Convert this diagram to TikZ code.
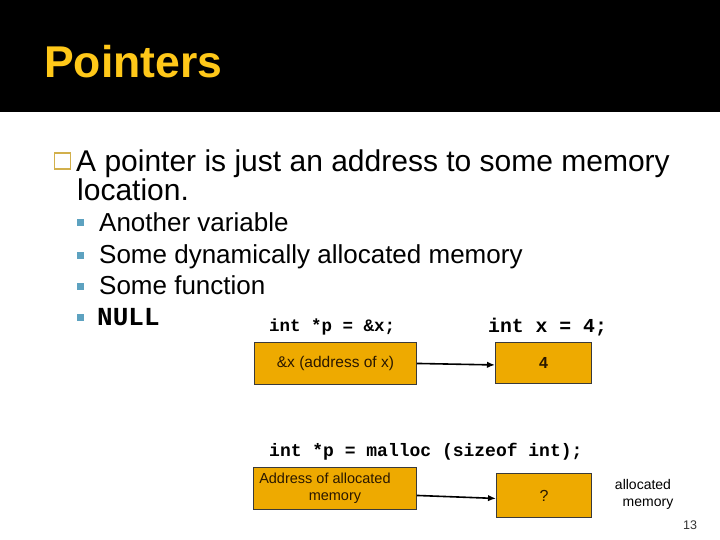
\documentclass[tikz,border=0pt]{standalone}
\usepackage{fontspec}
\setmainfont{Liberation Sans}
\newfontfamily\codefont{Liberation Mono}
\usetikzlibrary{arrows.meta}
\definecolor{titleyellow}{HTML}{FFC819}
\definecolor{bulletgold}{HTML}{D2B04C}
\definecolor{bulletteal}{HTML}{5DA2C0}
\definecolor{boxfill}{HTML}{EEAA00}
\definecolor{boxline}{HTML}{3A3A3A}
\definecolor{boxtext}{HTML}{2A1800}
\tikzset{
  txt/.style={anchor=base west, inner sep=0pt},
  mainfont/.style={font=\fontsize{30}{36}\selectfont},
  subfont/.style={font=\fontsize{26}{30}\selectfont},
  tealbullet/.style={fill=bulletteal, minimum size=7pt, inner sep=0pt},
  membox/.style={draw=boxline, fill=boxfill, line width=0.9pt, inner sep=0pt, anchor=north west, text=boxtext},
  ptrarrow/.style={draw=black, line width=1.6pt, -{Latex[length=8pt,width=6.5pt]}},
}
\begin{document}
\begin{tikzpicture}[x=1pt,y=-1pt]
\useasboundingbox (0,0) rectangle (720,540);
\fill[white] (0,0) rectangle (720,540);
\fill[black] (0,0) rectangle (720,112);
\node[txt, text=titleyellow, font=\bfseries\fontsize{44.5}{52}\selectfont] (title) at (44,78) {Pointers};

% main bullet
\node[draw=bulletgold, line width=1.4pt, minimum size=16pt, inner sep=0pt] (sq) at (62.5,161) {};
\node[txt, mainfont] (l1) at (76,172) {A pointer is just an address to some memory};
\node[txt, mainfont] (l2) at (77,201) {location.};

% sub bullets
\node[tealbullet] (b1) at (80.5,223) {};
\node[txt, subfont] (s1) at (99,231) {Another variable};
\node[tealbullet] (b2) at (80.5,255) {};
\node[txt, subfont] (s2) at (99,263) {Some dynamically allocated memory};
\node[tealbullet] (b3) at (80.5,286) {};
\node[txt, subfont] (s3) at (99,294) {Some function};
\node[tealbullet] (b4) at (80.5,317) {};
\node[txt, font=\codefont\bfseries\fontsize{26}{30}\selectfont] (s4) at (97,325) {NULL};

% code labels
\node[txt, font=\codefont\bfseries\fontsize{17.5}{20}\selectfont] (c1) at (269,331) {int *p = \&x;};
\node[txt, font=\codefont\bfseries\fontsize{19.8}{22}\selectfont] (c2) at (488,332) {int x = 4;};
\node[txt, font=\codefont\bfseries\fontsize{18}{21}\selectfont] (c3) at (269,456) {int *p = malloc (sizeof int);};

% boxes
\node[membox, minimum width=162pt, minimum height=42pt, font=\fontsize{15.5}{18}\selectfont] (p1) at (254,342) {\&x (address of x)};
\node[membox, minimum width=96pt, minimum height=41pt, font=\bfseries\fontsize{16}{19}\selectfont] (x1) at (495,342) {4};
\node[membox, minimum width=163pt, minimum height=42pt, align=center, font=\fontsize{14.5}{17}\selectfont] (p2) at (253,467) {Address of allocated\hspace*{20pt}\\memory};
\node[membox, minimum width=95pt, minimum height=44pt, font=\fontsize{16}{19}\selectfont] (x2) at (496,473) {?};

% arrows
\draw[ptrarrow] (p1.east) -- ([yshift=-2pt]x1.west);
\draw[ptrarrow] ([yshift=-7pt]p2.east) -- ([yshift=-3pt]x2.west);

% side label
\node[align=center, inner sep=0pt, font=\fontsize{14}{17}\selectfont] (am) at (643,494) {allocated\\\hspace*{10pt}memory};
\node[inner sep=0pt, text=black!80, font=\fontsize{12.5}{15}\selectfont] (pg) at (690,525) {13};
\end{tikzpicture}
\end{document}
